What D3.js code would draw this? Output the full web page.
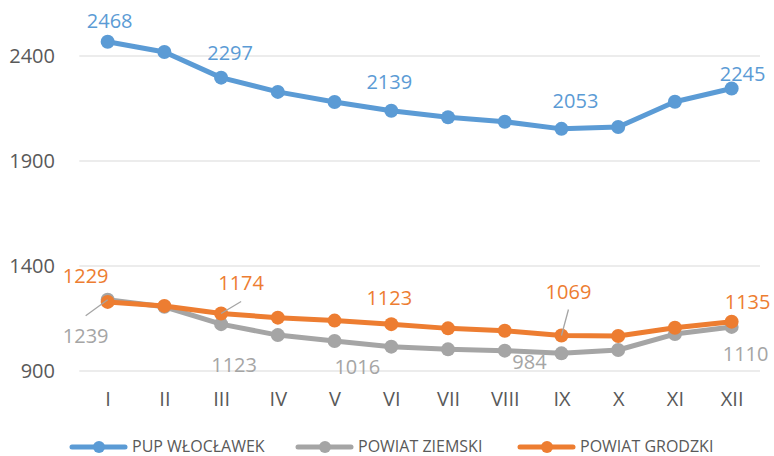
<!DOCTYPE html>
<html>
<head>
<meta charset="utf-8">
<script src="https://cdn.jsdelivr.net/npm/d3@7"></script>
<style>
  body { margin: 0; background: #fff; }
  svg { font-family: "Open Sans", sans-serif; }
</style>
</head>
<body>
<div id="root"></div>
<script>
// months
var months = ["I", "II", "III", "IV", "V", "VI", "VII", "VIII", "IX", "X", "XI", "XII"];
var seriesNames = ["PUP WŁOCŁAWEK", "POWIAT ZIEMSKI", "POWIAT GRODZKI"];
var pupValues = [2468, 2419, 2297, 2229, 2181, 2139, 2108, 2087, 2053, 2062, 2182, 2245];
var ziemskiValues = [1239, 1206, 1123, 1071, 1043, 1016, 1003, 997, 984, 1000, 1076, 1110];
var grodzkiValues = [1229, 1210, 1174, 1154, 1140, 1123, 1103, 1092, 1069, 1067, 1106, 1135];
var yTicks = [900, 1400, 1900, 2400];
// only some months carry a value label
var labelled = [0, 2, 5, 8, 11];

var w = 774, h = 456;
var colors = ["#5B9BD5", "#A5A5A5", "#ED7D31"];

// label offsets (dx, dy from point) - moved by hand in the original
var nudge = [
  [[2, -14], [9, -18], [-2, -22], [14, -21], [11, -8]],
  [[-22, 43], [13, 48], [-34, 27], [-32, 16], [14, 34]],
  [[-22, -19], [20, -23], [-2, -19], [7, -37], [16, -13]]
];

var x = d3.scalePoint().domain(months).range([79.3, 760]).padding(0.5);
var y = d3.scaleLinear().domain([900, 2400]).range([371, 56]);

var svg = d3.select("#root").append("svg").attr("width", w).attr("height", h);

// gridlines
svg.append("g").selectAll("line").data(yTicks).enter().append("line")
  .attr("x1", 79.3).attr("x2", 760)
  .attr("y1", d => y(d)).attr("y2", d => y(d))
  .style("stroke", "#D9D9D9").style("stroke-width", 1);

// y axis
var yAxis = svg.append("g").attr("transform", "translate(62,0)")
  .call(d3.axisLeft(y).tickValues(yTicks).tickFormat(d3.format("d")).tickSize(0).tickPadding(7));
yAxis.select(".domain").remove();
yAxis.selectAll("text").style("font-size", "20px").style("fill", "#595959")
  .style("font-family", "Open Sans, sans-serif");

// x axis
var xAxis = svg.append("g").attr("transform", "translate(0,389)")
  .call(d3.axisBottom(x).tickSize(0).tickPadding(3));
xAxis.select(".domain").remove();
xAxis.selectAll("text").style("font-size", "20px").style("fill", "#595959")
  .style("font-family", "Open Sans, sans-serif");

var allSeries = [pupValues, ziemskiValues, grodzkiValues];
var line = d3.line().x((d, i) => x(months[i])).y(d => y(d));

allSeries.forEach(function(vals, s) {
  var g = svg.append("g");
  g.append("path").datum(vals).attr("d", line)
    .style("fill", "none").style("stroke", colors[s]).style("stroke-width", 5)
    .style("stroke-linejoin", "round");
  g.selectAll("circle").data(vals).enter().append("circle")
    .attr("cx", (d, i) => x(months[i])).attr("cy", d => y(d)).attr("r", 7)
    .style("fill", colors[s]);
});

// leader lines
var leaders = [[1, 0], [2, 2], [2, 8]];
var leaderEnds = [[-22, 16], [20, -12], [7, -26]];
leaders.forEach(function(p, k) {
  var px = x(months[p[1]]), py = y(allSeries[p[0]][p[1]]);
  svg.append("line")
    .attr("x1", px).attr("y1", py)
    .attr("x2", px + leaderEnds[k][0]).attr("y2", py + leaderEnds[k][1])
    .style("stroke", "#A5A5A5").style("stroke-width", 1.3);
});

// value labels
allSeries.forEach(function(vals, s) {
  svg.append("g").selectAll("text").data(labelled).enter().append("text")
    .attr("x", (d, k) => x(months[d]) + nudge[s][k][0])
    .attr("y", (d, k) => y(vals[d]) + nudge[s][k][1])
    .attr("text-anchor", "middle")
    .style("font-size", "20px").style("fill", colors[s])
    .text(d => vals[d]);
});

// legend
var legX = [72, 298, 520];
var legend = svg.append("g").selectAll("g").data(seriesNames).enter().append("g")
  .attr("transform", (d, i) => "translate(" + legX[i] + ",447)");
legend.append("line").attr("x1", 0).attr("x2", 53).attr("y1", 0).attr("y2", 0)
  .style("stroke", (d, i) => colors[i]).style("stroke-width", 5).style("stroke-linecap", "round");
legend.append("circle").attr("cx", 27).attr("cy", 0).attr("r", 6)
  .style("fill", (d, i) => colors[i]);
legend.append("text").attr("x", 60).attr("y", 5)
  .style("font-size", "16px").style("fill", "#595959").text(d => d);
</script>
</body>
</html>
